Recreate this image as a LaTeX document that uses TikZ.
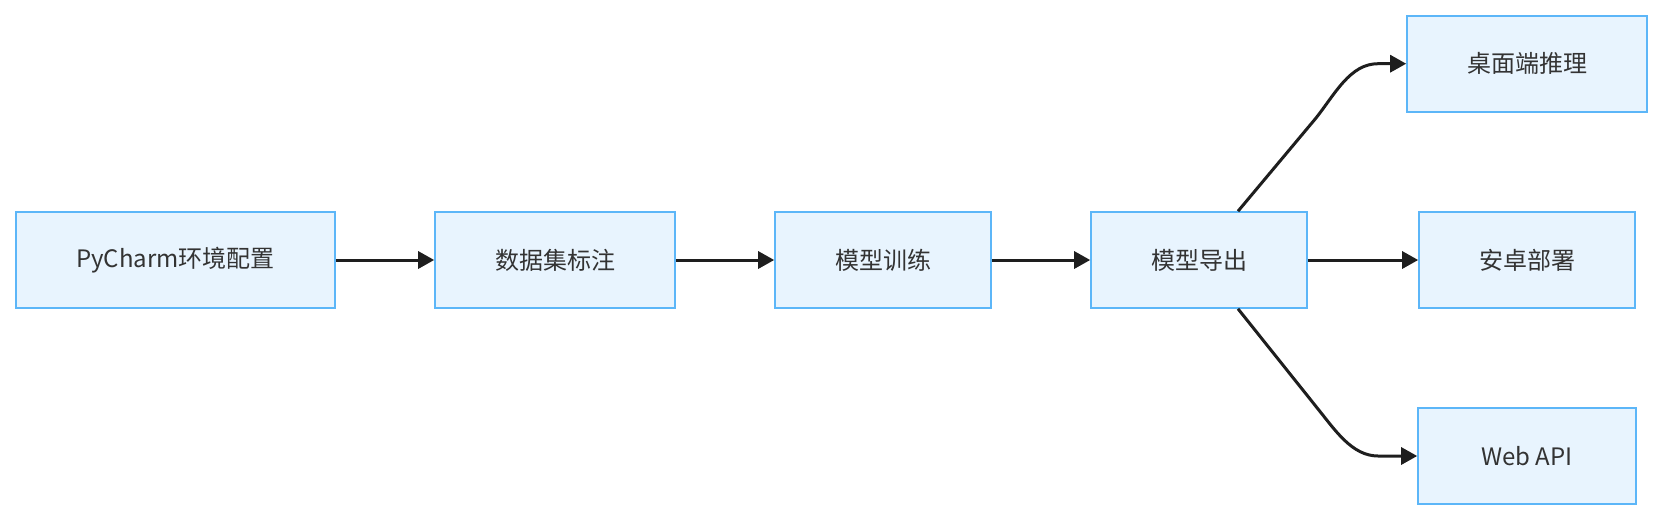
\documentclass[tikz,border=0pt]{standalone}
\usepackage{fontspec}
\setmainfont{Noto Sans CJK SC}
\usetikzlibrary{arrows.meta}
\definecolor{boxfill}{HTML}{E8F4FE}
\definecolor{boxline}{HTML}{5CB6F8}
\definecolor{edgecol}{HTML}{1E1E1E}
\definecolor{txt}{HTML}{333333}
\tikzset{
  stepbox/.style={draw=boxline, fill=boxfill, line width=1.6pt, inner sep=0pt,
    text=txt, font=\fontsize{24}{28}\selectfont},
  edge/.style={draw=edgecol, line width=3pt, -{Triangle[length=16pt,width=17pt]}}
}
\begin{document}
\begin{tikzpicture}[x=1pt,y=-1pt]
\useasboundingbox (0,0) rectangle (1672,528);
\node[stepbox, minimum width=319pt, minimum height=96pt] (py) at (175.5,260) {PyCharm环境配置};
\node[stepbox, minimum width=240pt, minimum height=96pt] (data) at (555,260) {数据集标注};
\node[stepbox, minimum width=216pt, minimum height=96pt] (train) at (883,260) {模型训练};
\node[stepbox, minimum width=216pt, minimum height=96pt] (export) at (1199,260) {模型导出};
\node[stepbox, minimum width=240pt, minimum height=96pt] (desk) at (1527,63.7) {桌面端推理};
\node[stepbox, minimum width=216pt, minimum height=96pt] (android) at (1527,260) {安卓部署};
\node[stepbox, minimum width=218pt, minimum height=96pt] (web) at (1527,456) {Web API};
\draw[edge] (py) -- (data);
\draw[edge] (data) -- (train);
\draw[edge] (train) -- (export);
\draw[edge] (export) -- (android);
\draw[edge] ([xshift=39pt]export.north) -- (1316,118) .. controls (1335,94) and (1350,63.7) .. (1378,63.7) -- (desk.west);
\draw[edge] ([xshift=39pt]export.south) -- (1318,409) .. controls (1335,430) and (1352,456) .. (1378,456) -- (web.west);
\end{tikzpicture}
\end{document}
